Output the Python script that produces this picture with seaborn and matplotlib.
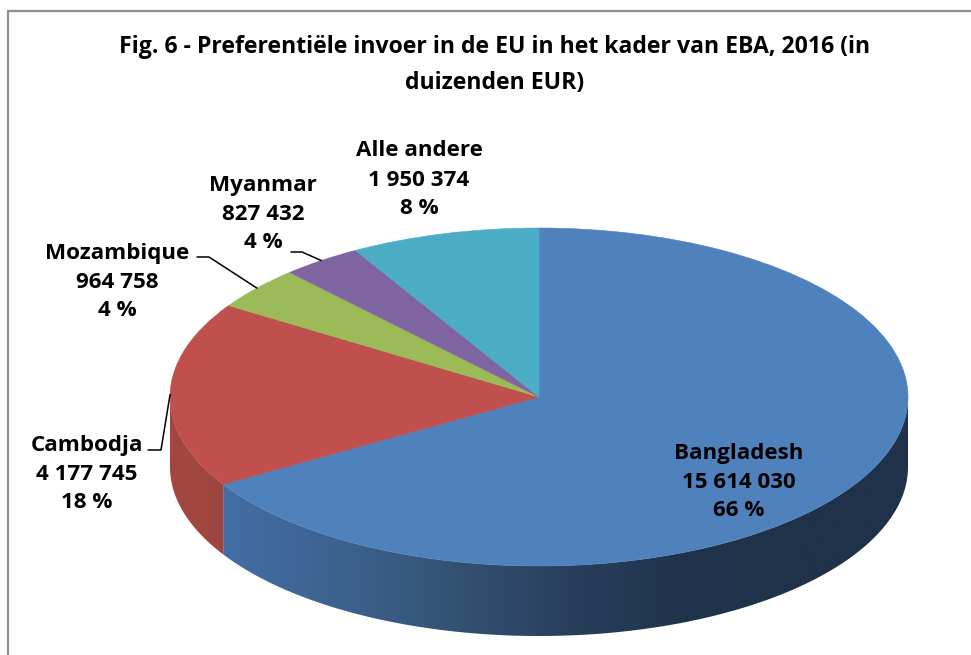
import numpy as np
import matplotlib
matplotlib.use("Agg")
import matplotlib.pyplot as plt
from matplotlib.patches import Polygon
import seaborn as sns

# -------------------------------
# data
# -------------------------------
landen = ["Bangladesh", "Cambodja", "Mozambique", "Myanmar", "Alle andere"]
waarden = [15614030, 4177745, 964758, 827432, 1950374]
titel = "Fig. 6 - Preferentiële invoer in de EU in het kader van EBA, 2016 (in\nduizenden EUR)"

kleuren = ["#4F81BD", "#C0504D", "#9BBB59", "#8064A2", "#4BACC6"]
wand_blauw = ["#436EA3", "#3D6290", "#345273", "#28405D", "#20334C", "#1F324A", "#1F324A"]
wand_rood = ["#A5473F", "#9E4541"]

# -------------------------------
# layout in pixels of the 971x655 picture
# -------------------------------
W, H = 971, 655
CX, CY, RX, RY = 539, 397, 369, 169
DIEPTE = 70

label_pos = {
    "Bangladesh": (739, 482),
    "Cambodja": (87, 474),
    "Mozambique": (117, 282),
    "Myanmar": (263, 214),
    "Alle andere": (419, 180),
}
# start and knee of the leader lines
leaders = {
    "Cambodja": [(148, 450), (161, 450)],
    "Mozambique": [(197, 257), (209, 257)],
    "Myanmar": [(291, 252), (302, 252)],
}

sns.set_theme(style="white")
plt.rcParams["font.family"] = ["Open Sans", "DejaVu Sans"]

fig = plt.figure(figsize=(W / 100, H / 100), dpi=100, facecolor="white")

# -------------------------------
# pie, squeezed to an ellipse by its axes
# -------------------------------
ax = fig.add_axes([
    (CX - RX) / W,
    (H - CY - RY - DIEPTE) / H,
    2 * RX / W,
    (2 * RY + DIEPTE) / H,
], zorder=1)

wedges, _ = ax.pie(
    waarden,
    colors=sns.color_palette(kleuren),
    startangle=90,
    counterclock=False,
    radius=1,
)
for w in wedges:
    w.set_edgecolor(w.get_facecolor())
    w.set_linewidth(0.4)
    w.set_zorder(5)

# angles clockwise from the top
aandeel = np.array(waarden) / sum(waarden)
grenzen = np.concatenate([[0], np.cumsum(aandeel)]) * 2 * np.pi
midden = (grenzen[:-1] + grenzen[1:]) / 2

# side wall: a gradient image clipped to the visible rim
dy = DIEPTE / RY
xgrens = np.sin(grenzen[1])
wanden = [
    (np.pi / 2, grenzen[1], wand_blauw, (xgrens, 1)),
    (grenzen[1], 3 * np.pi / 2, wand_rood, (-1, xgrens)),
]
for start, eind, stops, (x0, x1) in wanden:
    hoeken = np.linspace(start, eind, 200)
    rand_x = np.sin(hoeken)
    rand_y = np.cos(hoeken)
    vorm = np.vstack([
        np.column_stack([rand_x, rand_y]),
        np.column_stack([rand_x[::-1], rand_y[::-1] - dy]),
    ])
    kleur = np.array(sns.blend_palette(stops, 256))[:, :3][np.newaxis, :, :]
    im = ax.imshow(kleur, extent=(x0, x1, -1 - dy, 1), aspect="auto", zorder=2)
    im.set_clip_path(Polygon(vorm, closed=True, transform=ax.transData))

ax.set_aspect("auto")
ax.set_xlim(-1, 1)
ax.set_ylim(-1 - dy, 1)
ax.axis("off")

# -------------------------------
# overlay in picture pixels: frame, title, labels
# -------------------------------
top = fig.add_axes([0, 0, 1, 1], zorder=2)
top.set_xlim(0, W)
top.set_ylim(H, 0)
top.axis("off")

top.plot([8, 8, W], [H, 11, 11], color="#8E8E8E", lw=1.6, solid_joinstyle="miter")

top.text(495, 65, titel, ha="center", va="center", fontsize=16.55,
         fontweight="bold", color="black", linespacing=1.72)

for naam, waarde, a, m in zip(landen, waarden, aandeel, midden):
    tekst = f"{naam}\n{waarde:,}".replace(",", " ") + f"\n{round(a * 100)} %"
    x, y = label_pos[naam]
    top.text(x, y, tekst, ha="center", va="center", fontsize=16.1,
             fontweight="bold", color="black", linespacing=1.5)
    if naam in leaders:
        punten = leaders[naam] + [(CX + RX * np.sin(m), CY - RY * np.cos(m))]
        top.plot(*zip(*punten), color="black", lw=1.1)

fig.savefig("out.png", dpi=100)
